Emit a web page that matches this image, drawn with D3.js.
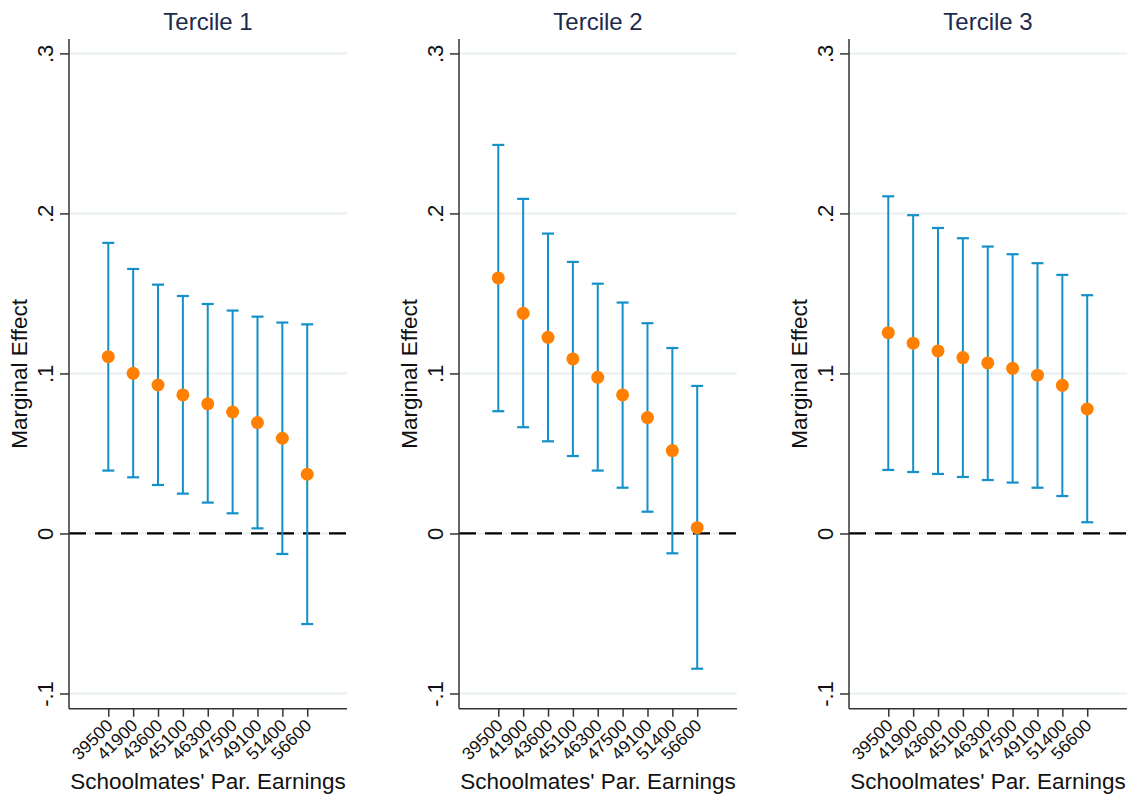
<!DOCTYPE html>
<html><head><meta charset="utf-8">
<script src="https://cdn.jsdelivr.net/npm/d3@7"></script>
<style>body{margin:0;background:#fff}svg{display:block;font-family:"Liberation Sans",Arial,sans-serif}</style>
</head><body><svg id="c" width="1129" height="798"></svg>
<script>
const categories = ["39500","41900","43600","45100","46300","47500","49100","51400","56600"];
const panelTitles = ["Tercile 1","Tercile 2","Tercile 3"];

const estimate1 = [0.1105,0.1001,0.0928,0.0866,0.0810,0.0759,0.0693,0.0595,0.0370];
const lower1    = [0.0393,0.0351,0.0303,0.0249,0.0193,0.0126,0.0032,-0.0128,-0.0566];
const upper1    = [0.1816,0.1653,0.1555,0.1484,0.1434,0.1393,0.1355,0.1318,0.1307];

const estimate2 = [0.1597,0.1376,0.1226,0.1091,0.0976,0.0866,0.0724,0.0518,0.0036];
const lower2    = [0.0764,0.0664,0.0576,0.0484,0.0393,0.0286,0.0136,-0.0124,-0.0845];
const upper2    = [0.2428,0.2091,0.1874,0.1697,0.1561,0.1443,0.1314,0.1159,0.0922];

const estimate3 = [0.1255,0.1189,0.1141,0.1099,0.1066,0.1032,0.0989,0.0926,0.0778];
const lower3    = [0.0397,0.0384,0.0372,0.0353,0.0334,0.0318,0.0286,0.0234,0.0070];
const upper3    = [0.2107,0.1989,0.1909,0.1845,0.1793,0.1745,0.1689,0.1616,0.1489];

const yTicks = [-0.1,0,0.1,0.2,0.3];
const yTickLabels = ["-.1","0",".1",".2",".3"];
const yTitle = "Marginal Effect";
const xTitle = "Schoolmates' Par. Earnings";

const panels = [
  {title: panelTitles[0], est: estimate1, lo: lower1, hi: upper1},
  {title: panelTitles[1], est: estimate2, lo: lower2, hi: upper2},
  {title: panelTitles[2], est: estimate3, lo: lower3, hi: upper3}
];

const svg = d3.select("#c");
const plotTop = 39, plotBottom = 708.7, plotW = 278, panelStep = 390, firstLeft = 69;
const barColor = "#1390c8", dotColor = "#ff8000", gridColor = "#e9f0f1", axisColor = "#333", titleColor = "#1c2a4c";

const y = d3.scaleLinear().domain([-0.1095, 0.309]).range([plotBottom, plotTop]);

panels.forEach((p, k) => {
  const left = firstLeft + k * panelStep;
  const x = d3.scaleLinear().domain([-1.58, 9.6]).range([left, left + plotW]);
  const g = svg.append("g");
  const idx = categories.map((c, i) => i);

  g.selectAll(".grid").data(yTicks).join("line")
    .attr("x1", left).attr("x2", left + plotW)
    .attr("y1", d => y(d)).attr("y2", d => y(d))
    .attr("stroke", gridColor).attr("stroke-width", 2);

  g.append("line")
    .attr("x1", left).attr("x2", left + plotW)
    .attr("y1", y(0)).attr("y2", y(0))
    .attr("stroke", "#000").attr("stroke-width", 2.2)
    .attr("stroke-dasharray", "17,9");

  g.selectAll(".bar").data(idx).join("line")
    .attr("x1", i => x(i)).attr("x2", i => x(i))
    .attr("y1", i => y(p.lo[i])).attr("y2", i => y(p.hi[i]))
    .attr("stroke", barColor).attr("stroke-width", 2);
  g.selectAll(".capHi").data(idx).join("line")
    .attr("x1", i => x(i) - 6).attr("x2", i => x(i) + 6)
    .attr("y1", i => y(p.hi[i])).attr("y2", i => y(p.hi[i]))
    .attr("stroke", barColor).attr("stroke-width", 2.2);
  g.selectAll(".capLo").data(idx).join("line")
    .attr("x1", i => x(i) - 6).attr("x2", i => x(i) + 6)
    .attr("y1", i => y(p.lo[i])).attr("y2", i => y(p.lo[i]))
    .attr("stroke", barColor).attr("stroke-width", 2.2);

  g.selectAll(".dot").data(idx).join("circle")
    .attr("cx", i => x(i)).attr("cy", i => y(p.est[i]))
    .attr("r", 6.5).attr("fill", dotColor);

  const ya = g.append("g").attr("transform", `translate(${left},0)`)
    .call(d3.axisLeft(y).tickValues(yTicks).tickSize(9).tickFormat((d, i) => yTickLabels[i]));
  ya.attr("font-size", null).attr("font-family", null);
  ya.select(".domain").attr("d", `M0,${plotTop}V${plotBottom}`).attr("stroke", axisColor).attr("stroke-width", 1.5);
  ya.selectAll(".tick line").attr("stroke", axisColor).attr("stroke-width", 1.5);
  ya.selectAll(".tick text")
    .attr("x", null).attr("dy", null)
    .attr("transform", "translate(-16,0) rotate(-90)")
    .attr("text-anchor", "middle")
    .style("font-size", "22px").attr("fill", "#111");

  const xa = g.append("g").attr("transform", `translate(0,${plotBottom})`)
    .call(d3.axisBottom(x).tickValues(idx).tickSize(8).tickFormat(i => categories[i]));
  xa.attr("font-size", null).attr("font-family", null);
  xa.select(".domain").attr("d", `M${left},0H${left + plotW}`).attr("stroke", axisColor).attr("stroke-width", 1.5);
  xa.selectAll(".tick line").attr("stroke", axisColor).attr("stroke-width", 1.5);
  xa.selectAll(".tick text")
    .attr("y", null).attr("dy", null)
    .attr("transform", "translate(5,18) rotate(-45)")
    .attr("text-anchor", "end")
    .style("font-size", "17.5px").attr("fill", "#111");

  g.append("text").attr("x", left + plotW / 2).attr("y", 30)
    .attr("text-anchor", "middle").style("font-size", "24px").attr("fill", titleColor).text(p.title);
  g.append("text").attr("transform", `translate(${left - 42},${(plotTop + plotBottom) / 2}) rotate(-90)`)
    .attr("text-anchor", "middle").style("font-size", "22.5px").attr("fill", "#111").text(yTitle);
  g.append("text").attr("x", left + plotW / 2).attr("y", 789)
    .attr("text-anchor", "middle").style("font-size", "22.5px").attr("fill", "#111").text(xTitle);
});
</script></body></html>
